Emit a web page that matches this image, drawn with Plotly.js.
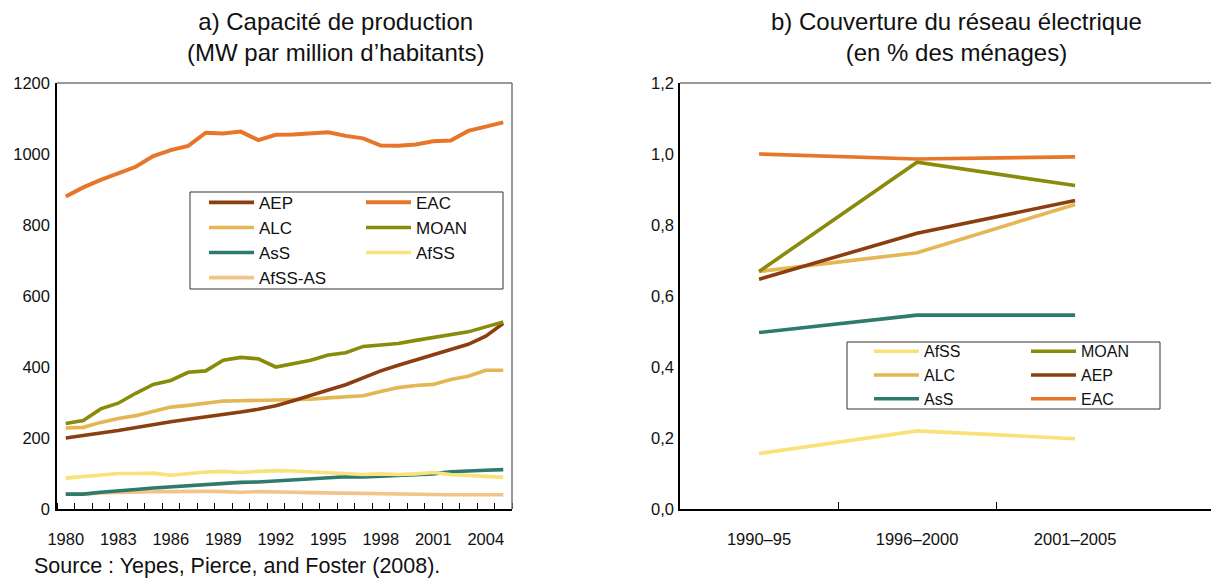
<!DOCTYPE html>
<html>
<head>
<meta charset="utf-8">
<script src="https://cdn.plot.ly/plotly-3.0.1.min.js"></script>
<style>html,body{margin:0;padding:0;background:#fff;}#chart{width:1211px;height:581px;}</style>
</head>
<body>
<div id="chart"></div>
<script>
// ---- Panel a) : generating capacity, MW per million inhabitants ----
const years = [1980,1981,1982,1983,1984,1985,1986,1987,1988,1989,1990,1991,1992,1993,1994,1995,1996,1997,1998,1999,2000,2001,2002,2003,2004,2005];
const yearTicks = [1980,1983,1986,1989,1992,1995,1998,2001,2004];
const capAEP   = [200,206,214,221,230,237,246,253,259,267,273,281,291,305,321,335,350,369,389,405,420,435,449,464,487,523];
const capEAC   = [880,906,927,946,964,994,1011,1023,1060,1058,1063,1039,1054,1055,1057,1061,1051,1044,1024,1023,1027,1036,1038,1065,1077,1089];
const capALC   = [228,230,244,255,263,275,287,292,298,304,305,306,306,307,309,313,317,319,331,342,348,351,365,374,391,391];
const capMOAN  = [241,249,282,298,326,351,362,385,389,419,427,423,400,410,419,434,440,458,461,466,475,483,492,499,513,527];
const capAsS   = [42,42,47,52,55,59,62,65,69,73,75,76,79,82,86,90,91,90,92,93,96,99,105,108,109,111];
const capAfSS  = [87,92,97,100,100,101,95,100,104,106,103,106,108,107,105,101,101,97,99,97,99,103,97,94,92,89];
const capAfSSAS= [42,42,45,47,47,49,49,50,50,49,47,49,47,47,46,45,44,43,42,41,41,40,40,40,40,40];

// ---- Panel b) : electricity network coverage (share of households) ----
const periods = ['1990\u201395','1996\u20132000','2001\u20132005'];
const covAfSS = [0.156,0.220,0.198];
const covMOAN = [0.669,0.977,0.911];
const covALC  = [0.669,0.722,0.858];
const covAEP  = [0.647,0.777,0.869];
const covAsS  = [0.497,0.546,0.546];
const covEAC  = [1.000,0.986,0.992];

const colors = {
  AEP:'#8B3E10', EAC:'#E8762A', ALC:'#E4B654', MOAN:'#8A8B0A',
  AsS:'#2E7B6E', AfSS:'#F9E27A', 'AfSS-AS':'#F1C48A'
};

const W = 1211, H = 581;
const px = v => v / W;
const py = v => 1 - v / H;
const FONT = '"Liberation Sans", Arial, sans-serif';

function lt(name, x, y, xa, ya, legend, width) {
  return {
    type:'scatter', mode:'lines', name:name, x:x, y:y, xaxis:xa, yaxis:ya,
    legend:legend, line:{color:colors[name], width:width || 3.6},
    hoverinfo:'x+y+name'
  };
}

const periodIdx = periods.map((p, i) => i);

const traces = [
  // left chart, column 1 of legend
  lt('AfSS-AS', years, capAfSSAS, 'x', 'y', 'legend'),
  lt('AsS', years, capAsS, 'x', 'y', 'legend'),
  lt('ALC', years, capALC, 'x', 'y', 'legend'),
  lt('AEP', years, capAEP, 'x', 'y', 'legend'),
  // left chart, column 2 of legend
  lt('AfSS', years, capAfSS, 'x', 'y', 'legend2'),
  lt('MOAN', years, capMOAN, 'x', 'y', 'legend2'),
  lt('EAC', years, capEAC, 'x', 'y', 'legend2', 4),
  // right chart
  lt('AfSS', periodIdx, covAfSS, 'x2', 'y2', 'legend3'),
  lt('ALC', periodIdx, covALC, 'x2', 'y2', 'legend3'),
  lt('AsS', periodIdx, covAsS, 'x2', 'y2', 'legend3'),
  lt('MOAN', periodIdx, covMOAN, 'x2', 'y2', 'legend4'),
  lt('AEP', periodIdx, covAEP, 'x2', 'y2', 'legend4'),
  lt('EAC', periodIdx, covEAC, 'x2', 'y2', 'legend4')
];

// legend column orders
const leftCol1 = ['AEP','ALC','AsS','AfSS-AS'];
const leftCol2 = ['EAC','MOAN','AfSS'];
const rightCol1 = ['AfSS','ALC','AsS'];
const rightCol2 = ['MOAN','AEP','EAC'];
traces.forEach(t => {
  const order = {legend:leftCol1, legend2:leftCol2, legend3:rightCol1, legend4:rightCol2}[t.legend];
  t.legendrank = order.indexOf(t.name) + 1;
});

function legendCfg(xPx, yTopPx, size) {
  return {
    x:px(xPx), y:py(yTopPx), xanchor:'left', yanchor:'top',
    orientation:'v', bgcolor:'rgba(0,0,0,0)', borderwidth:0,
    itemwidth:45, traceorder:'normal',
    font:{family:FONT, size:size, color:'#111'},
    itemclick:false, itemdoubleclick:false
  };
}

const axisFont = {family:FONT, size:16.5, color:'#111'};

const layout = {
  width:W, height:H,
  margin:{l:0, r:0, t:0, b:0, pad:0},
  paper_bgcolor:'#ffffff', plot_bgcolor:'#ffffff',
  separators:', ',
  showlegend:true,
  font:{family:FONT, color:'#111'},
  xaxis:{
    domain:[px(57), px(512)], anchor:'y',
    type:'linear', range:[years[0]-0.5, years[years.length-1]+0.5],
    tickmode:'array', tickvals:yearTicks, ticktext:yearTicks.map(String),
    ticks:'', showgrid:false, zeroline:false,
    showline:true, linecolor:'#000', linewidth:1.5,
    tickfont:axisFont, ticklabelstandoff:14,
    minor:{ticks:'inside', tickmode:'linear', tick0:years[0]-0.5, dtick:1, ticklen:6, tickwidth:1, tickcolor:'#000', showgrid:false}
  },
  yaxis:{
    domain:[py(509), py(83)], anchor:'x',
    range:[0,1200], dtick:200, tick0:0, tickformat:'d',
    ticks:'', showgrid:false, zeroline:false,
    showline:true, linecolor:'#000', linewidth:1.5,
    tickfont:axisFont, ticklabelstandoff:2
  },
  xaxis2:{
    domain:[px(680), 1], anchor:'y2',
    type:'linear', range:[-0.5, 2.86],
    tickmode:'array', tickvals:periodIdx, ticktext:periods,
    ticks:'', showgrid:false, zeroline:false,
    showline:true, linecolor:'#000', linewidth:1.5,
    tickfont:axisFont, ticklabelstandoff:14,
    minor:{ticks:'inside', tickmode:'array', tickvals:periodIdx.slice(1).map(i => i - 0.5), ticklen:7, tickwidth:1, tickcolor:'#000', showgrid:false}
  },
  yaxis2:{
    domain:[py(509), py(83)], anchor:'x2',
    range:[0,1.2], dtick:0.2, tick0:0, tickformat:'.1f',
    ticks:'', showgrid:false, zeroline:false,
    showline:true, linecolor:'#000', linewidth:1.5,
    tickfont:axisFont, ticklabelstandoff:1
  },
  legend: legendCfg(204, 184.8, 17),
  legend2: legendCfg(361, 184.8, 17),
  legend3: legendCfg(869, 334.3, 16),
  legend4: legendCfg(1026, 334.3, 16),
  shapes:[
    // plot frame (top/right) of panel a
    {type:'line', xref:'x domain', yref:'y domain', x0:0, x1:1, y0:1, y1:1, line:{color:'#777', width:1.5}},
    {type:'line', xref:'x domain', yref:'y domain', x0:1, x1:1, y0:0, y1:1, line:{color:'#777', width:1.5}},
    // plot frame (top) of panel b
    {type:'line', xref:'x2 domain', yref:'y2 domain', x0:0, x1:1, y0:1, y1:1, line:{color:'#777', width:1.5}},
    // legend boxes
    {type:'rect', xref:'paper', yref:'paper', x0:px(190), x1:px(503), y0:py(289), y1:py(192), line:{color:'#333', width:1}, fillcolor:'rgba(0,0,0,0)', layer:'below'},
    {type:'rect', xref:'paper', yref:'paper', x0:px(847), x1:px(1160), y0:py(409), y1:py(342), line:{color:'#333', width:1}, fillcolor:'rgba(0,0,0,0)', layer:'below'}
  ],
  annotations:[
    {xref:'paper', yref:'paper', x:px(335), y:py(37.5), xanchor:'center', yanchor:'middle', showarrow:false,
     text:'a) Capacité de production<br>(MW par million d\u2019habitants)', font:{family:FONT, size:24, color:'#111'}},
    {xref:'paper', yref:'paper', x:px(956), y:py(37.5), xanchor:'center', yanchor:'middle', showarrow:false,
     text:'b) Couverture du réseau électrique<br>(en % des ménages)', font:{family:FONT, size:24, color:'#111'}},
    {xref:'paper', yref:'paper', x:px(32), y:py(566), xanchor:'left', yanchor:'middle', showarrow:false,
     text:'Source : Yepes, Pierce, and Foster (2008).', font:{family:FONT, size:21.5, color:'#111'}}
  ]
};

Plotly.newPlot('chart', traces, layout, {displayModeBar:false, staticPlot:false, responsive:false});
</script>
</body>
</html>
